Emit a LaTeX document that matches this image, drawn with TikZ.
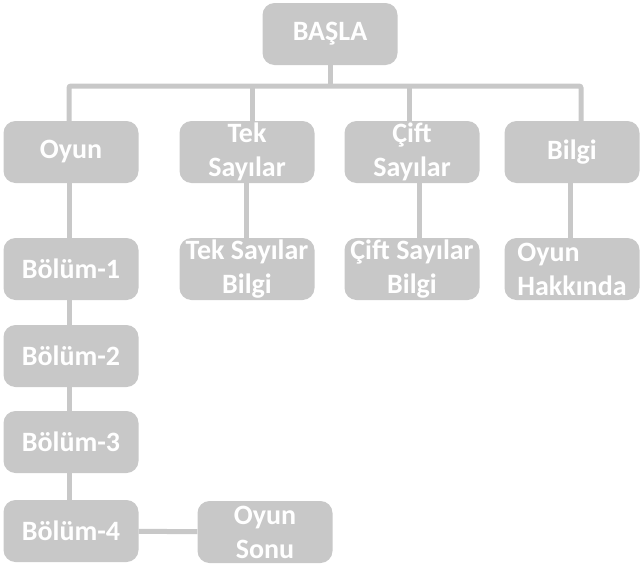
\documentclass[tikz,border=0pt]{standalone}
\usepackage{fontspec}
\setmainfont{Carlito}
\usepackage{tikz}
\usetikzlibrary{positioning,calc}
\definecolor{boxgray}{RGB}{200,200,200}
\tikzset{
  menubox/.style={fill=boxgray,rounded corners=12pt,minimum width=135pt,
    minimum height=62pt,inner sep=1pt,text=white,
    font=\fontsize{28}{34}\selectfont\bfseries,align=center},
  link/.style={draw=boxgray,line width=5pt},
}
\begin{document}
\begin{tikzpicture}[x=1pt,y=-1pt]
  \useasboundingbox (0,0) rectangle (643,573);
  \node[menubox] (basla) at (330,34) {BAŞLA};
  \node[menubox] (oyun) at (71,152) {Oyun};
  \node[menubox] (tek) at (247,152) {Tek\\Sayılar};
  \node[menubox] (cift) at (412,152) {Çift\\Sayılar};
  \node[menubox] (bilgi) at (572,152) {Bilgi};
  \node[menubox] (bolum1) at (71,269) {Bölüm-1};
  \node[menubox] (tekbilgi) at (247,269) {Tek Sayılar\\Bilgi};
  \node[menubox] (ciftbilgi) at (412,269) {Çift Sayılar\\Bilgi};
  \node[menubox,align=left] (hakkinda) at (572,269) {Oyun\\Hakkında};
  \node[menubox] (bolum2) at (71,356) {Bölüm-2};
  \node[menubox] (bolum3) at (71,442) {Bölüm-3};
  \node[menubox] (bolum4) at (71,531) {Bölüm-4};
  \node[menubox] (sonu) at (265,532) {Oyun\\Sonu};
  % tree links
  \coordinate (bar) at (330,86);
  \draw[link] (basla.south) -- (bar);
  \draw[link,rounded corners=2pt] ([xshift=-2]oyun.north) |- (bar)
    -| ([xshift=9]bilgi.north);
  \draw[link] (bar -| tek.north) ++(5,0) -- ([xshift=5]tek.north);
  \draw[link] (bar -| cift.north) ++(-3,0) -- ([xshift=-3]cift.north);
  \draw[link] ([xshift=-2]oyun.south) -- ([xshift=-2]bolum1.north);
  \draw[link] ([xshift=-1]tek.south) -- ([xshift=-1]tekbilgi.north);
  \draw[link] ([xshift=7]cift.south) -- ([xshift=7]ciftbilgi.north);
  \draw[link] ([xshift=-2]bilgi.south) -- ([xshift=-2]hakkinda.north);
  \draw[link] ([xshift=-2]bolum1.south) -- ([xshift=-2]bolum2.north);
  \draw[link] ([xshift=-2]bolum2.south) -- ([xshift=-2]bolum3.north);
  \draw[link] ([xshift=-2]bolum3.south) -- ([xshift=-2]bolum4.north);
  \draw[link] (bolum4) -- (sonu);
\end{tikzpicture}
\end{document}
